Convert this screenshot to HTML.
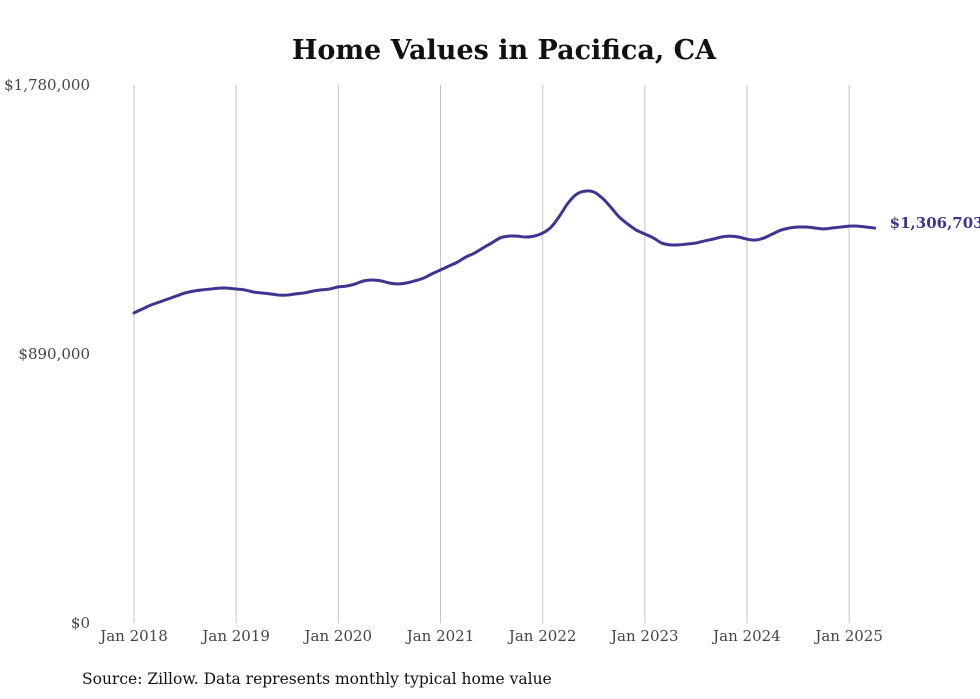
<!DOCTYPE html>
<html><head><meta charset="utf-8"><style>
body{margin:0;background:#fff;width:980px;height:699px;overflow:hidden}
svg{display:block;font-family:"DejaVu Serif","Liberation Serif",serif}
</style></head><body>
<svg id="chart" width="980" height="699" viewBox="0 0 980 699">
<text x="504" y="59" text-anchor="middle" font-size="27" font-weight="bold" fill="#111">Home Values in Pacifica, CA</text>
<g id="grid"></g><g id="yt"></g><g id="xt"></g>
<path id="line" fill="none" stroke="#3d3590" stroke-width="3" stroke-linejoin="round" stroke-linecap="round"/>
<text id="endlabel" font-size="15" font-weight="bold" fill="#3d3590"></text>
<text x="82" y="684" font-size="15.5" fill="#111">Source: Zillow. Data represents monthly typical home value</text>
</svg>
<script>
const yearLabels=["Jan 2018","Jan 2019","Jan 2020","Jan 2021","Jan 2022","Jan 2023","Jan 2024","Jan 2025"];
const yTicks=[0,890000,1780000];
const yTickLabels=["$0","$890,000","$1,780,000"];
const values=[
1026,1039,1052,1062,1072,1082,1092,1098,1102,1105,1108,1108,
1105,1102,1095,1092,1089,1085,1085,1089,1092,1098,1102,1105,
1112,1115,1122,1132,1135,1132,1125,1122,1125,1132,1141,1155,
1168,1181,1194,1211,1224,1241,1257,1274,1280,1280,1277,1280,
1290,1310,1347,1390,1419,1429,1426,1406,1376,1343,1320,1300,
1287,1274,1257,1251,1251,1254,1257,1264,1270,1277,1280,1277,
1270,1267,1274,1287,1300,1307,1310,1310,1307,1304,1307,1310,
1313,1313,1310,1306.703].map(v=>v*1000);
const lastLabel="$1,306,703";
const NS="http://www.w3.org/2000/svg";
const x=m=>134+m*(102.16/12);
const y=v=>623-v/1780000*538;
const mk=(t,a,p)=>{const e=document.createElementNS(NS,t);for(const k in a)e.setAttribute(k,a[k]);p.appendChild(e);return e;};
const grid=document.getElementById('grid'),xt=document.getElementById('xt'),yt=document.getElementById('yt');
yearLabels.forEach((l,i)=>{
  const ln=mk('line',{x1:x(i*12),x2:x(i*12),y1:85,y2:623,stroke:'#c4c4c4','stroke-width':1},grid);
  
  
  const t=mk('text',{x:x(i*12),y:641,'text-anchor':'middle','font-size':15,fill:'#444'},xt);
  t.textContent=l;
  
  
});
yTicks.forEach((v,i)=>{
  const t=mk('text',{x:90,y:y(v)+5,'text-anchor':'end','font-size':15,fill:'#444'},yt);
  t.textContent=yTickLabels[i];
  
  
});
const pts=values.map((v,i)=>[x(i),y(v)]);
let d='M'+pts[0].join(',');
for(let i=0;i<pts.length-1;i++){
  const p0=pts[i-1]||pts[i],p1=pts[i],p2=pts[i+1],p3=pts[i+2]||p2;
  d+=` C${p1[0]+(p2[0]-p0[0])/6},${p1[1]+(p2[1]-p0[1])/6} ${p2[0]-(p3[0]-p1[0])/6},${p2[1]-(p3[1]-p1[1])/6} ${p2[0]},${p2[1]}`;
}
document.getElementById('line').setAttribute('d',d);
const el=document.getElementById('endlabel');
const lp=pts[pts.length-1];
el.setAttribute('x',lp[0]+15);el.setAttribute('y',lp[1]+0);
el.textContent=lastLabel;
</script>
</body></html>
